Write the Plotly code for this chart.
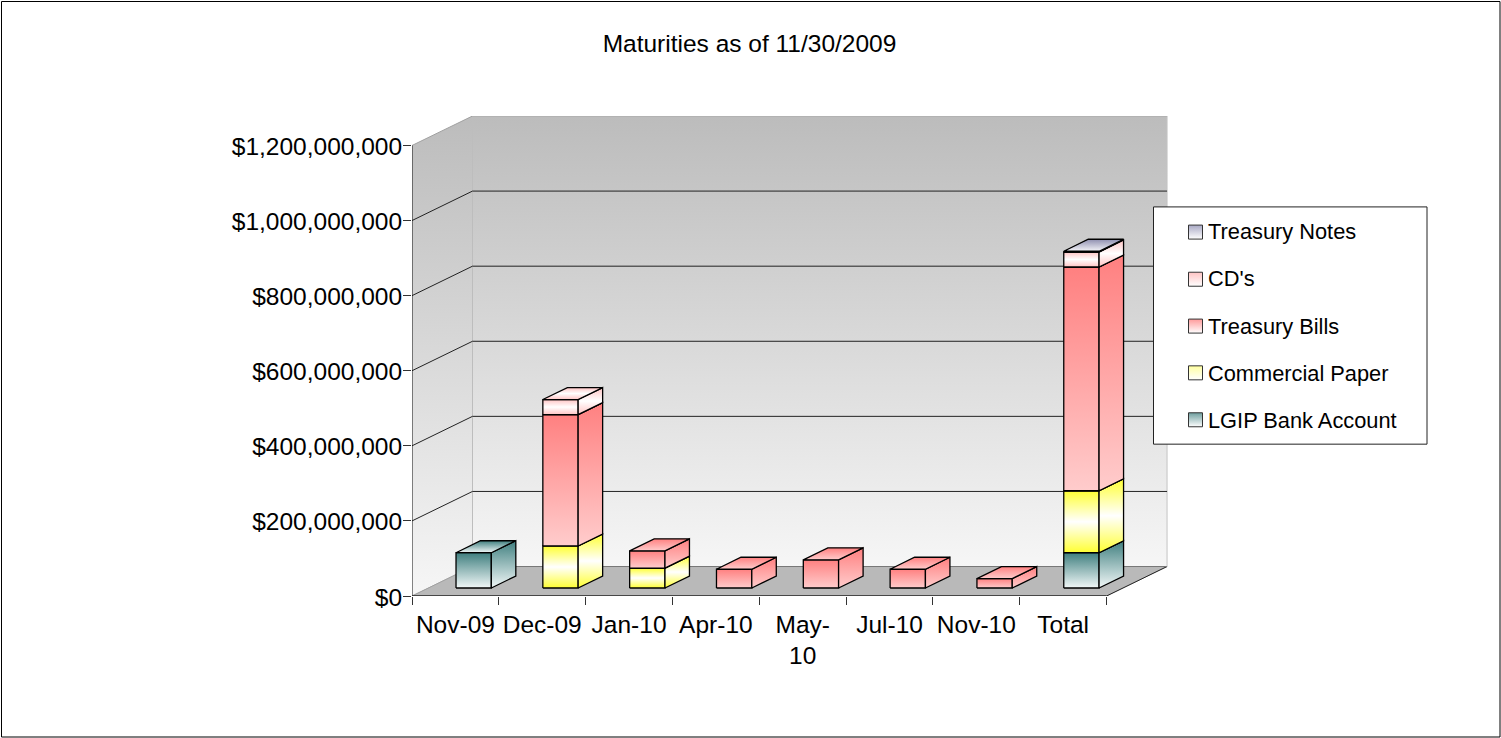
import plotly.graph_objects as go

categories = ["Nov-09", "Dec-09", "Jan-10", "Apr-10", "May-<br>10", "Jul-10", "Nov-10", "Total"]
lgip = [94e6, 0, 0, 0, 0, 0, 0, 94e6]
commercial_paper = [0, 112e6, 53e6, 0, 0, 0, 0, 165e6]
treasury_bills = [0, 350e6, 46e6, 50e6, 75e6, 50e6, 25e6, 596e6]
cds = [0, 40e6, 0, 0, 0, 0, 0, 40e6]
treasury_notes = [0, 0, 0, 0, 0, 0, 0, 2e6]
y_ticks = [0, 200e6, 400e6, 600e6, 800e6, 1000e6, 1200e6]
y_labels = ["$0", "$200,000,000", "$400,000,000", "$600,000,000", "$800,000,000", "$1,000,000,000", "$1,200,000,000"]

# colours run from the top of a face to its bottom
series = [
    ("LGIP Bank Account", lgip, ["#3f7f7f", "#f2f8f8"], "#6f9f9f"),
    ("Commercial Paper", commercial_paper, ["#ffff33", "#ffffff", "#ffff33"], "#ffffa0"),
    ("Treasury Bills", treasury_bills, ["#ff8080", "#ffcccc"], "#ff9a9a"),
    ("CD's", cds, ["#ffc4c4", "#ffffff", "#ffc4c4"], "#ffc4c4"),
    ("Treasury Notes", treasury_notes, ["#8f8fb0", "#f4f4f8"], "#a8a8c4"),
]

# layout of the oblique projection (the plot area also holds the legend box)
PL, PR, PT, PB = 412, 1430, 116, 596
CAT_PX = 86.82
PX_PER_USD = 451 / 1.2e9
DX, DY = 60.5 / CAT_PX, 29.5 / PX_PER_USD
BAR_W, BAR_DX, BAR_DY = 35.3 / CAT_PX, 24.5 / CAT_PX, 12 / PX_PER_USD
BAR_LEFT, BAR_BASE = 0.507, 8 / PX_PER_USD
YMAX = y_ticks[-1]
N = len(categories)
LEGEND_ROWS_PX = [231.7, 278.9, 325.8, 372.6, 419.6]


def px_x(p):
    return (p - PL) / CAT_PX


def px_y(p):
    return (PB - p) / PX_PER_USD


def scale(colors):
    rev = colors[::-1]
    return [[i / (len(rev) - 1), c] for i, c in enumerate(rev)]


fig = go.Figure()


def poly(xs, ys, colors=None, line="black", width=1.3):
    t = dict(x=xs + xs[:1], y=ys + ys[:1], mode="lines", fill="toself",
             line=dict(color=line, width=width), showlegend=False, hoverinfo="skip")
    if colors:
        t["fillgradient"] = dict(type="vertical", colorscale=scale(colors))
    fig.add_trace(go.Scatter(**t))


def line(xs, ys, color, width=1, dash=None):
    fig.add_trace(go.Scatter(x=xs, y=ys, mode="lines", cliponaxis=False, showlegend=False,
                             hoverinfo="skip", line=dict(color=color, width=width, dash=dash)))


wall = ["#bcbcbc", "#f6f6f6"]
# side and back walls
poly([0, DX, DX, 0], [0, DY, YMAX + DY, YMAX], wall, line="rgba(0,0,0,0)")
poly([DX, N + DX, N + DX, DX], [DY, DY, YMAX + DY, YMAX + DY], wall, line="rgba(0,0,0,0)")
# floor
fig.add_trace(go.Scatter(x=[0, N, N + DX, DX, 0], y=[0, 0, DY, DY, 0], mode="lines", fill="toself",
                         fillcolor="#b9b9b9", line=dict(color="#b9b9b9", width=1),
                         showlegend=False, hoverinfo="skip"))
# wall edges
line([DX, DX], [DY, YMAX + DY], "#bdbdbd", 1)
line([N + DX, N + DX], [DY, YMAX + DY], "#c4c4c4", 1)
line([DX, N + DX], [YMAX + DY, YMAX + DY], "#a8a8a8", 1)
line([0, DX], [YMAX, YMAX + DY], "#a0a0a0", 1)
line([0, DX], [0, DY], "#a0a0a0", 1)
line([N, N + DX], [0, DY], "#222222", 1)
# gridlines
for v in y_ticks[1:-1]:
    line([0, DX, N + DX], [v, v + DY, v + DY], "#222222", 1)
line([DX, N + DX], [DY, DY], "#777777", 1)
# axis lines
line([0, 0], [0, YMAX], "#111111", 1)
line([0, N], [0, 0], "#222222", 1.5)

# bars
for i in range(N):
    base = BAR_BASE
    x0 = i + BAR_LEFT
    x1 = x0 + BAR_W
    for name, values, colors, _ in series:
        v = values[i]
        if v <= 0:
            continue
        top = base + v
        poly([x0, x1, x1, x0], [base, base, top, top], colors)
        poly([x1, x1 + BAR_DX, x1 + BAR_DX, x1], [base, base + BAR_DY, top + BAR_DY, top], colors)
        poly([x0, x1, x1 + BAR_DX, x0 + BAR_DX], [top, top, top + BAR_DY, top + BAR_DY], colors)
        base = top

# legend box
fig.add_trace(go.Scatter(
    x=[px_x(1153.5), px_x(1427), px_x(1427), px_x(1153.5), px_x(1153.5)],
    y=[px_y(206.5), px_y(206.5), px_y(444), px_y(444), px_y(206.5)],
    mode="lines", fill="toself", fillcolor="white", line=dict(color="#222222", width=1),
    showlegend=False, hoverinfo="skip"))

# legend entries, top entry first; the swatch sits closer to its text than a legend allows,
# so the entries' own symbols are hidden and the swatches are placed beside them
for (name, values, colors, key), row in zip(reversed(series), LEGEND_ROWS_PX):
    fig.add_trace(go.Scatter(
        x=[None], y=[None], mode="markers", name=name, legendgroup=name, showlegend=True,
        marker=dict(symbol="square", size=14, color="rgba(0,0,0,0)", line=dict(width=0)),
    ))
    fig.add_trace(go.Scatter(
        x=[px_x(1195.5)], y=[px_y(row)], mode="markers", showlegend=False, hoverinfo="skip",
        cliponaxis=False,
        marker=dict(symbol="square", size=14, color=key,
                    gradient=dict(type="vertical", color="#ffffff"),
                    line=dict(color="#333333", width=1)),
    ))

W, H = 1501, 738
pw, ph = PR - PL, PB - PT
fig.update_layout(
    width=W, height=H, autosize=False,
    margin=dict(l=PL, r=W - PR, t=PT, b=H - PB, pad=0),
    paper_bgcolor="white", plot_bgcolor="white",
    font=dict(family="Liberation Sans, Arial, sans-serif", color="black", size=24.5),
    title=dict(text="Maturities as of 11/30/2009", x=749.5 / W, xref="container", xanchor="center",
               y=1 - 43 / H, yref="container", yanchor="middle",
               font=dict(size=24.5, color="black"), pad=dict(t=0, b=0, l=0, r=0)),
    xaxis=dict(range=[0, pw / CAT_PX], tickmode="array", tickvals=[i + 0.5 for i in range(N)],
               ticktext=categories, ticks="", showgrid=False, zeroline=False, showline=False,
               tickangle=0, tickfont=dict(size=24.5), ticklabelstandoff=11,
               minor=dict(tickmode="array", tickvals=list(range(N + 1)), ticks="outside", ticklen=8,
                          tickcolor="#333333", tickwidth=1, showgrid=False)),
    yaxis=dict(range=[0, YMAX + DY], tickmode="array", tickvals=y_ticks, ticktext=y_labels,
               ticks="outside", ticklen=8, tickcolor="#333333", tickwidth=1, showgrid=False,
               zeroline=False, showline=False, tickfont=dict(size=24.5), ticklabelstandoff=-4,
               ticklabelshift=1),
    legend=dict(x=(1175 - PL) / pw, xanchor="left", y=(PB - 209.7) / ph, yanchor="top",
                bgcolor="rgba(0,0,0,0)", borderwidth=0, indentation=-7,
                font=dict(size=21.8), traceorder="grouped", tracegroupgap=16,
                itemclick=False, itemdoubleclick=False),
    shapes=[dict(type="rect", xref="paper", yref="paper", layer="below",
                 x0=(1.5 - PL) / pw, x1=(1500 - PL) / pw,
                 y0=(PB - 737) / ph, y1=(PB - 1.5) / ph,
                 line=dict(color="black", width=1))],
    hovermode=False,
)

fig.write_html("out.html", config={"displayModeBar": False},
               post_script="document.body.style.margin='0';document.body.style.overflow='hidden';")
